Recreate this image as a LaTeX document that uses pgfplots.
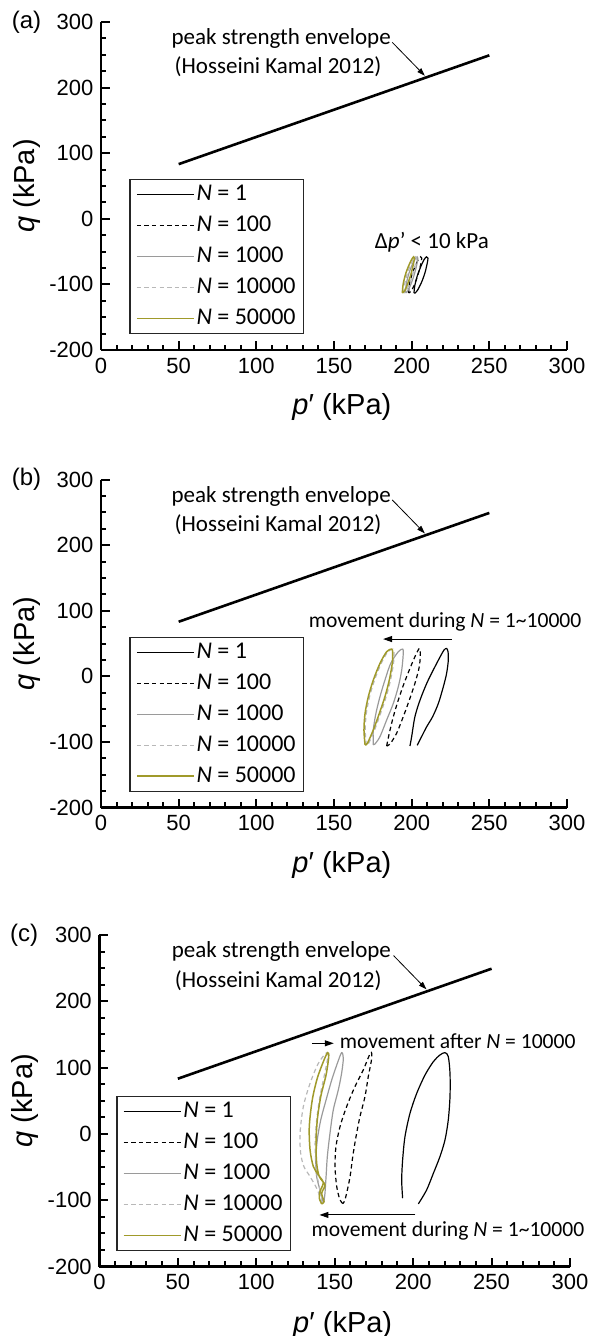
\documentclass[border=0pt]{standalone}
\usepackage{fontspec}
\setmainfont{Carlito}
\newfontfamily\arial{Liberation Sans}
\usepackage{pgfplots}
\pgfplotsset{compat=1.18}
\usetikzlibrary{arrows.meta}
\definecolor{olivec}{HTML}{A09A2A}
\definecolor{midgray}{HTML}{9A9A9A}
\definecolor{lgray}{HTML}{B8B8B8}
\newcommand\annfont{\fontsize{11.5}{13}\selectfont}
\newcommand\movfont{\fontsize{10.8}{12}\selectfont}
\pgfplotsset{
  panel/.style={
    scale only axis, width=233pt, height=164pt,
    xmin=0, xmax=300, ymin=-200, ymax=300,
    axis x line*=bottom, axis y line*=left,
    axis line style={line width=1.4pt},
    xtick={0,50,...,300}, ytick={-200,-100,...,300},
    minor x tick num=4, minor y tick num=3,
    tick align=inside,
    major tick length=4.5pt, minor tick length=2.6pt,
    tick style={black, line width=1pt},
    tick label style={font=\arial\fontsize{11}{12}\selectfont},
    /pgf/number format/assume math mode=true,
    yticklabel style={xshift=-0.3pt},
    xticklabel style={yshift=-0.3pt},
    xlabel={\textit{p}′ (kPa)}, ylabel={\textit{q} (kPa)},
    label style={font=\arial\fontsize{14.5}{16}\selectfont},
    xlabel style={at={(axis description cs:0.517,-0.175)}, anchor=center},
    ylabel style={at={(axis description cs:-0.158,0.5)}, anchor=center},
    clip=false,
    legend cell align=left,
    legend style={at={(0.061,0.048)}, anchor=south west, draw=black!85, line width=0.6pt,
      font=\fontsize{12}{13}\selectfont, inner xsep=3pt, inner ysep=1pt, row sep=2.5pt,
      nodes={inner sep=1pt, text height=8.5pt, text depth=2.5pt}},
    legend image code/.code={\draw[##1] (0pt,0pt) -- (28.5pt,0pt);},
  },
  n1/.style={black, line width=0.6pt, smooth, tension=0.5},
  n100/.style={black, line width=0.6pt, dash pattern=on 2.2pt off 1.6pt, smooth, tension=0.5},
  n1000/.style={midgray, line width=0.6pt, smooth, tension=0.5},
  n10000/.style={lgray, line width=0.6pt, dash pattern=on 2.2pt off 1.6pt, smooth, tension=0.5},
  n50000/.style={olivec, line width=0.75pt, smooth, tension=0.5},
}
\begin{document}
\begin{tikzpicture}
\path[use as bounding box] (0,0) rectangle (294pt,668pt);

% ---------------- (a) ----------------
\begin{axis}[panel, at={(50.5pt,493pt)}, anchor=south west]
\addplot[black, line width=1.3pt, forget plot] coordinates {(50,83.3) (250,249.2)};
\addplot[n1] coordinates {(201.5,-113) (202,-102) (203.5,-88) (205.5,-75) (207.8,-63) (209.5,-58) (210.5,-60) (210,-68) (208.6,-82) (206.5,-96) (204,-108) (202.3,-113) (201.5,-113)};
\addlegendentry{\textit{N} = 1}
\addplot[n100] coordinates {(198,-113) (198.5,-100) (200.2,-85) (202.3,-72) (204.3,-62) (205.8,-58) (206.5,-60) (205.8,-70) (204.2,-84) (202.2,-98) (199.8,-110) (198,-113)};
\addlegendentry{\textit{N} = 100}
\addplot[n1000] coordinates {(196,-113) (196.5,-100) (198,-85) (200,-72) (202,-62) (203.5,-58) (204,-60) (203.3,-70) (201.8,-84) (199.8,-98) (197.5,-110) (196,-113)};
\addlegendentry{\textit{N} = 1000}
\addplot[n10000] coordinates {(195,-113) (195.5,-100) (197,-85) (199,-72) (201,-62) (202.5,-58) (203,-60) (202.3,-70) (200.8,-84) (198.8,-98) (196.5,-110) (195,-113)};
\addlegendentry{\textit{N} = 10000}
\addplot[n50000] coordinates {(194,-113) (194.5,-100) (196,-85) (198,-72) (200,-62) (201.3,-58) (201.8,-60) (201,-70) (199.6,-84) (197.6,-98) (195.5,-110) (194,-113)};
\addlegendentry{\textit{N} = 50000}
\node[font=\annfont, inner sep=0pt] at (axis cs:116,274.7) {peak strength envelope};
\node[font=\annfont, inner sep=0pt] at (axis cs:114,231.5) {(Hosseini Kamal 2012)};
\draw[-{Triangle[length=4pt,width=2.6pt]}, line width=0.4pt] (axis cs:187.5,269) -- (axis cs:208.5,218);
\node[font=\annfont, inner sep=0pt] at (axis cs:213,-35) {Δ\textit{p}' < 10 kPa};
\node[font=\arial\fontsize{12}{13}\selectfont] at (axis description cs:-0.16,1.0) {(a)};
\end{axis}

% ---------------- (b) ----------------
\begin{axis}[panel, at={(50.5pt,264.2pt)}, anchor=south west]
\addplot[black, line width=1.3pt, forget plot] coordinates {(50,83.3) (250,249.2)};
\addplot[n1] coordinates {(198.9,-106.1) (200.0,-91.8) (202.1,-61.4) (205.4,-36) (209.7,-10.6) (213.9,9.7) (217.8,27.5) (220.8,40.1) (222.5,42.6) (223.4,37.6) (223.6,24.9) (222.5,4.6) (220.4,-15.7) (217.2,-41.1) (213.5,-61.4) (209.7,-76.6) (206.4,-91.8) (203.6,-105)};
\addlegendentry{\textit{N} = 1}
\addplot[n100] coordinates {(183.9,-106.1) (185.6,-86.7) (188.2,-61.4) (191.4,-36) (195.1,-10.6) (198.9,12.2) (202.1,30) (204.9,42.6) (205.6,35) (204.9,14.7) (202.1,-10.6) (198.5,-36) (194.6,-61.4) (190.3,-86.7) (186.1,-103) (183.9,-106.1)};
\addlegendentry{\textit{N} = 100}
\addplot[n1000] coordinates {(175.3,-104.5) (175.3,-81.7) (177.0,-56.3) (179.6,-30.9) (182.8,-5.6) (186.5,19.8) (191.4,37.6) (194.2,41.6) (194.6,35.1) (193.6,9.7) (191.4,-15.7) (188.2,-41.1) (183.9,-66.5) (179.6,-91.8) (176.4,-103) (175.3,-104.5)};
\addlegendentry{\textit{N} = 1000}
\addplot[n10000] coordinates {(170.8,-104.5) (170.1,-81.7) (170.8,-56.3) (172.9,-30.9) (176.1,-5.6) (180.4,19.8) (184.7,37.6) (187.9,41.6) (188.6,36) (188.3,19.8) (186.4,-5.6) (183.6,-30.9) (180.0,-56.3) (176.1,-81.7) (172.3,-102) (170.8,-104.5)};
\addlegendentry{\textit{N} = 10000}
\addplot[n50000] coordinates {(170.0,-104.5) (169.3,-81.7) (170.0,-56.3) (172.1,-30.9) (175.3,-5.6) (179.6,19.8) (183.9,37.6) (187.1,41.6) (187.8,36) (187.5,19.8) (185.6,-5.6) (182.8,-30.9) (179.2,-56.3) (175.3,-81.7) (171.5,-102) (170.0,-104.5)};
\addlegendentry{\textit{N} = 50000}
\node[font=\annfont, inner sep=0pt] at (axis cs:116,274.7) {peak strength envelope};
\node[font=\annfont, inner sep=0pt] at (axis cs:114,231.5) {(Hosseini Kamal 2012)};
\draw[-{Triangle[length=4pt,width=2.6pt]}, line width=0.4pt] (axis cs:187.5,269) -- (axis cs:208.5,218);
\node[font=\movfont, inner sep=0pt] at (axis cs:221.5,83.2) {movement during \textit{N} = 1\textasciitilde10000};
\draw[-{Triangle[length=4.5pt,width=3pt]}, line width=0.5pt] (axis cs:225.9,56.9) -- (axis cs:181.6,56.9);
\node[font=\arial\fontsize{12}{13}\selectfont] at (axis description cs:-0.16,1.0) {(b)};
\end{axis}

% ---------------- (c) ----------------
\begin{axis}[panel, at={(49.7pt,34.7pt)}, anchor=south west, width=235.3pt, height=165.8pt,
  legend style={at={(0.036,0.047)}}]
\addplot[black, line width=1.3pt, forget plot] coordinates {(50,83.3) (250,249.2)};
\addplot[n1] coordinates {(193.3,-96.9) (192.7,-69.3) (193.3,-39.2) (194.8,-4) (198.0,31.2) (202.3,61.4) (207.6,89) (212.9,109.1) (217.1,119.1) (220.3,122.6) (222.4,116.6) (223.5,91.5) (223.5,56.3) (222.4,21.1) (220.3,-9) (217.1,-34.1) (212.9,-59.3) (208.6,-84.4) (203.3,-105.5)};
\addlegendentry{\textit{N} = 1}
\addplot[n100] coordinates {(155.2,-105) (153.3,-99) (151.3,-79.4) (150.2,-49.2) (150.8,-19.1) (153.4,11.1) (157.6,41.2) (162.9,71.4) (168.2,96.5) (172.9,122.6) (173.6,114.1) (171.4,86.4) (169.3,56.3) (166.1,26.2) (163.6,-4) (161.5,-34.1) (159.8,-64.3) (157.6,-89.4) (156.3,-101) (155.2,-105)};
\addlegendentry{\textit{N} = 100}
\addplot[n1000] coordinates {(142.8,-104) (142.3,-101) (140.6,-84.4) (138.5,-64.3) (137.9,-39.2) (138.9,-9) (141.1,21.1) (144.5,51.3) (148.1,81.4) (151.7,106.6) (154.4,122.6) (155.5,114.1) (154.4,91.5) (152.3,66.4) (149.1,36.2) (147.0,1.1) (145.3,-34.1) (144.5,-64.3) (143.8,-89.4) (143.2,-101) (142.8,-104)};
\addlegendentry{\textit{N} = 1000}
\addplot[n10000] coordinates {(141.9,-104) (141.5,-100) (138.5,-81.9) (134.3,-64.3) (130.4,-49.2) (128.3,-29.1) (127.9,1.1) (130.0,41.2) (134.3,76.4) (139.6,106.6) (144.9,122.6) (145.3,111.6) (143.2,86.4) (140.6,56.3) (138.5,21.1) (137.5,-14.1) (137.9,-44.2) (138.9,-64.3) (140.6,-84.4) (142.1,-100) (141.9,-104)};
\addlegendentry{\textit{N} = 10000}
\addplot[n50000] coordinates {(141.7,-105.5) (140.2,-97) (140.6,-86.9) (142.7,-73.3) (139.6,-61.8) (136.4,-49.2) (134.3,-24.1) (133.8,11.1) (135.7,51.3) (138.9,84) (143.2,111.6) (145.5,122.6) (146.2,116.6) (144.5,89) (141.1,56.3) (138.9,21.1) (138.1,-14.1) (138.5,-44.2) (140.2,-64.3) (143.8,-76.9) (141.7,-89.4) (143.2,-102) (141.7,-105.5)};
\addlegendentry{\textit{N} = 50000}
\node[font=\annfont, inner sep=0pt] at (axis cs:116,274.7) {peak strength envelope};
\node[font=\annfont, inner sep=0pt] at (axis cs:114,231.5) {(Hosseini Kamal 2012)};
\draw[-{Triangle[length=4pt,width=2.6pt]}, line width=0.4pt] (axis cs:187.5,269) -- (axis cs:208.5,218);
\node[font=\movfont, inner sep=0pt, anchor=west] at (axis cs:153,139.2) {movement after \textit{N} = 10000};
\draw[-{Triangle[length=4.5pt,width=3pt]}, line width=0.5pt] (axis cs:135.5,136.7) -- (axis cs:149.4,136.7);
\node[font=\movfont, inner sep=0pt] at (axis cs:222.2,-145.7) {movement during \textit{N} = 1\textasciitilde10000};
\draw[-{Triangle[length=4.5pt,width=3pt]}, line width=0.5pt] (axis cs:201.5,-122.1) -- (axis cs:140.3,-122.1);
\node[font=\arial\fontsize{12}{13}\selectfont] at (axis description cs:-0.16,1.0) {(c)};
\end{axis}
\end{tikzpicture}
\end{document}
